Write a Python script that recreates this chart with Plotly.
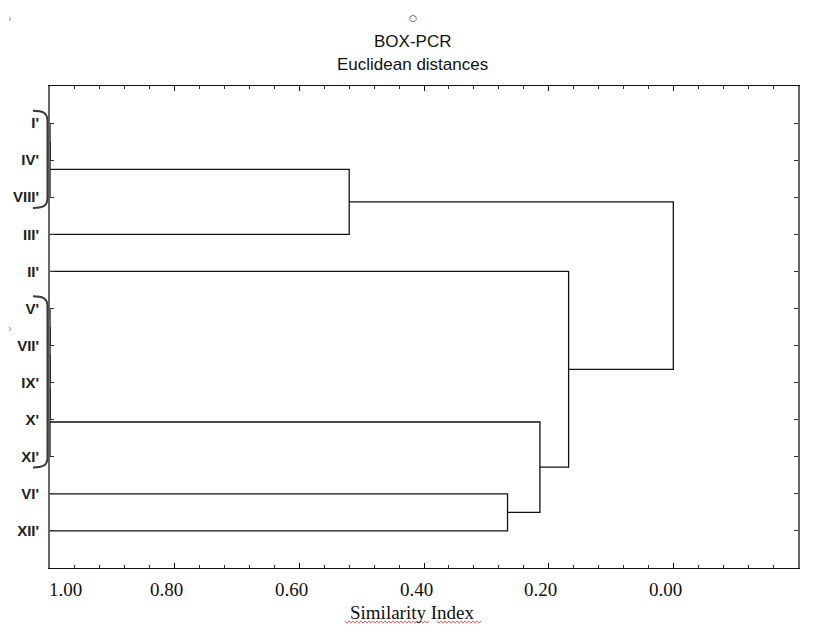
import plotly.graph_objects as go

# ---------------- data ----------------
leaves = ["I'", "IV'", "VIII'", "III'", "II'", "V'", "VII'", "IX'", "X'", "XI'", "VI'", "XII'"]
# linkage: (cluster a, cluster b, similarity at which they join); new clusters numbered from len(leaves)
merge_a = [0, 12, 13, 5, 15, 16, 17, 10, 18, 4, 14]
merge_b = [1, 2, 3, 6, 7, 8, 9, 11, 19, 20, 21]
merge_sim = [1.00, 1.00, 0.52, 1.00, 1.00, 1.00, 1.00, 0.266, 0.214, 0.168, 0.00]
# bracketed groups (first leaf, last leaf)
bracket_groups = [("I'", "VIII'"), ("V'", "XI'")]
major_ticks = [1.00, 0.80, 0.60, 0.40, 0.20, 0.00]
major_tick_labels = ["1.00", "0.80", "0.60", "0.40", "0.20", "0.00"]

# ---------------- dendrogram geometry from linkage ----------------
pos = {i: i + 1 for i in range(len(leaves))}
sim = {i: 1.00 for i in range(len(leaves))}
xs, ys = [], []
n = len(leaves)
for k, (a, b, s) in enumerate(zip(merge_a, merge_b, merge_sim)):
    ya, yb = pos[a], pos[b]
    xs += [sim[a], s, s, sim[b], None]
    ys += [ya, ya, yb, yb, None]
    pos[n + k] = (ya + yb) / 2
    sim[n + k] = s

fig = go.Figure()
fig.add_trace(go.Scatter(x=xs, y=ys, mode="lines",
                         line=dict(color="#111111", width=1.3),
                         hoverinfo="skip", showlegend=False, cliponaxis=False))

# page offset (body margin) and plot area in page pixels
OFF = 8
PL, PR, PT, PB = 50, 798, 86, 568
PW, PH = float(PR - PL), float(PB - PT)

def px_x(px):
    return (px - PL) / PW

def px_y(py):
    return (PB - py) / PH

shapes = []
# brackets
for first, last in bracket_groups:
    top = leaves.index(first) + 1 - 0.33
    bot = leaves.index(last) + 1 + 0.29
    c = 0.27
    x0 = -17 / PW
    x1 = -2.5 / PW
    xm = -8 / PW
    path = (f"M {x0},{top} C {xm},{top} {x1},{top+0.04} {x1},{top+c} "
            f"L {x1},{bot-c} C {x1},{bot-0.04} {xm},{bot} {x0},{bot}")
    shapes.append(dict(type="path", path=path, xref="paper", yref="y",
                       line=dict(color="#3a3a3a", width=2)))

# red spell-check squiggles under axis title
def squiggle(p0, p1, py):
    pts = []
    x = p0
    up = True
    while x <= p1:
        yy = py - (1.2 if up else -1.2)
        pts.append((px_x(x), px_y(yy)))
        x += 2
        up = not up
    return "M " + " L ".join(f"{a:.5f},{b:.5f}" for a, b in pts)

for a, b in [(345, 429), (437, 481)]:
    shapes.append(dict(type="path", path=squiggle(a, b, 622), xref="paper", yref="paper",
                       line=dict(color="#d04040", width=0.8)))

annotations = []
serif = dict(family="Liberation Serif, Times New Roman, serif", size=19, color="#111")
# x tick labels
for v, t in zip(major_ticks, major_tick_labels):
    first = v == major_ticks[0]
    annotations.append(dict(x=v, y=px_y(589), xref="x", yref="paper", text=t, showarrow=False,
                            xanchor="left" if first else "center", yanchor="middle",
                            xshift=-3 if first else -8, font=serif))
# axis title
annotations.append(dict(x=px_x(412), y=px_y(612), xref="paper", yref="paper",
                        text="Similarity Index", showarrow=False, xanchor="center", yanchor="middle",
                        font=serif))
# titles
tfont = dict(family="Liberation Sans, Arial, sans-serif", size=17, color="#111")
annotations.append(dict(x=px_x(412), y=px_y(41), xref="paper", yref="paper",
                        text="BOX-PCR", showarrow=False, xanchor="center", yanchor="middle", font=tfont))
annotations.append(dict(x=px_x(412), y=px_y(65), xref="paper", yref="paper",
                        text="Euclidean distances", showarrow=False, xanchor="center", yanchor="middle", font=tfont))
annotations.append(dict(x=px_x(413), y=px_y(18), xref="paper", yref="paper",
                        text="○", showarrow=False, xanchor="center", yanchor="middle",
                        font=dict(family="DejaVu Sans", size=9, color="#222")))
# small page artifacts
for py in (18, 328):
    annotations.append(dict(x=px_x(OFF + 2), y=px_y(py), xref="paper", yref="paper",
                            text="›", showarrow=False, xanchor="center", yanchor="middle",
                            font=dict(family="DejaVu Sans", size=10, color="#888")))

fig.update_layout(
    width=818 - OFF, height=635 - OFF,
    margin=dict(l=PL - OFF, r=818 - PR, t=PT - OFF, b=635 - PB, autoexpand=False),
    paper_bgcolor="white", plot_bgcolor="white",
    shapes=shapes, annotations=annotations,
    xaxis=dict(range=[1.0, -0.2], tickmode="array", tickvals=major_ticks + [-0.2],
               showticklabels=False, ticks="inside", ticklen=5, tickwidth=1, tickcolor="#111",
               mirror="allticks", showline=True, linecolor="#111", linewidth=1.2,
               showgrid=False, zeroline=False, automargin=False,
               minor=dict(ticks="inside", ticklen=3, tickwidth=1, tickcolor="#333",
                          dtick=0.04, tick0=0, showgrid=False)),
    yaxis=dict(range=[13, 0], tickmode="array", tickvals=list(range(1, len(leaves) + 1)),
               ticktext=leaves, ticks="inside", ticklen=4, tickwidth=1, tickcolor="#333",
               mirror="allticks", showline=True, linecolor="#666", linewidth=1.8,
               showgrid=False, zeroline=False, ticklabelstandoff=6, automargin=False,
               tickfont=dict(family="Liberation Sans Narrow, Arial Narrow, Liberation Sans, Arial",
                             size=15, color="#222", weight="bold")),
)

fig.write_html("out.html")
